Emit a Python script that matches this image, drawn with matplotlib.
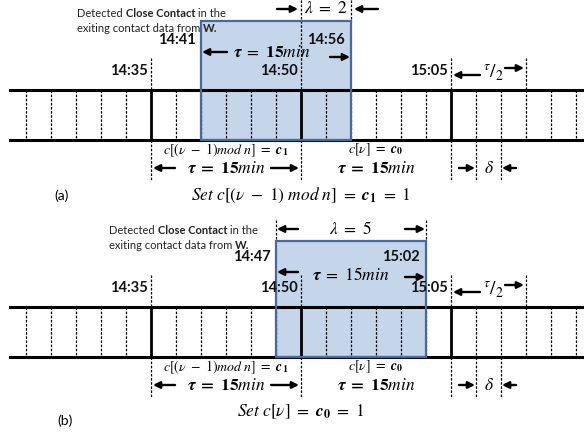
import matplotlib
matplotlib.use('Agg')
import matplotlib.pyplot as plt
from matplotlib.patches import Rectangle

plt.rcParams['mathtext.fontset'] = 'stix'

# x in minutes after 14:35, y in pixel rows of the figure
minor_ticks = [-12.5, -10, -7.5, -5, -2.5, 2.5, 5, 7.5, 10, 12.5, 17.5, 20,
               22.5, 25, 27.5, 32.5, 35, 37.5, 40, 42.5]
major_ticks = [0, 15, 30]
major_labels = ['14:35', '14:50', '15:05']
delta_ticks = [32.5, 35]
half_tau_end = 37.5

contact_start = [5, 12.5]          # where the box is drawn
contact_end = [20, 27.5]
contact_labels = [('14:41', '14:56'), ('14:47', '15:02')]
lambdas = [2, 5]
set_texts = [r'$Set\ c[(\nu\ -\ 1)\ mod\ n]\ =\ \mathbfit{c}_{\mathbf{1}}\ =\ 1$',
             r'$Set\ c[\nu]\ =\ \mathbfit{c}_{\mathbf{0}}\ =\ 1$']
panel_tags = ['(a)', '(b)']
panel_offset = [0, 217]

BOX_FILL = '#c5d5ea'
BOX_EDGE = '#47699b'
SANS = 'Lato'
TAU_BOLD = r'$\mathbfit{\tau}\ \mathbf{=\ 15}min$'

fig = plt.figure(figsize=(5.84, 4.33), dpi=100)
ax = fig.add_axes([0, 0, 1, 1])
ax.set_xlim(-15.1, 43.3)
ax.set_ylim(433, 0)
ax.axis('off')


def arrow(x0, x1, y):
    ax.annotate('', xy=(x1, y), xytext=(x0, y), zorder=7,
                arrowprops=dict(arrowstyle='-|>', lw=1.7, color='k',
                                mutation_scale=10, shrinkA=0, shrinkB=0))


def dashed(x, y0, y1):
    ax.plot([x, x], [y0, y1], color='k', lw=0.9, ls=(0, (2, 1.3)), zorder=2)


def rich_line(x, y, parts, size):
    # parts: list of (text, weight) drawn one after another on the same baseline
    fig.canvas.draw()
    r = fig.canvas.get_renderer()
    inv = ax.transData.inverted()
    cur = x
    for s, w in parts:
        t = ax.text(cur, y, s, fontsize=size, fontweight=w, family=SANS,
                    va='baseline', ha='left', color='#222222')
        bb = t.get_window_extent(renderer=r)
        cur = inv.transform((bb.x1, bb.y0))[0]


for i in range(2):
    dy = panel_offset[i]
    top, bot = 90 + dy, 140 + dy
    a, b = contact_start[i], contact_end[i]
    box_top = 21 + dy if i == 0 else 24 + dy

    # detected contact window
    ax.add_patch(Rectangle((a, box_top), b - a, bot - box_top, facecolor=BOX_FILL,
                           edgecolor='none', zorder=1))
    ax.add_patch(Rectangle((a, box_top), b - a, bot - box_top, facecolor='none',
                           edgecolor=BOX_EDGE, lw=1.6, zorder=5))

    # the time line
    ax.plot([-14.1, 43.3], [top, top], color='k', lw=2.2, zorder=3)
    ax.plot([-14.1, 43.3], [bot, bot], color='k', lw=2.2, zorder=3)
    for m in minor_ticks:
        dashed(m, top, bot)
    for m in major_ticks:
        ax.plot([m, m], [top, bot], color='k', lw=2, zorder=3)

    # dashed guides above the line
    for m in major_ticks + [half_tau_end]:
        y0 = 58 + dy
        if i == 0 and m == 15:
            y0 = 0
        dashed(m, y0, top)
    # below the line
    for m in major_ticks + delta_ticks:
        dashed(m, bot, bot + 40)

    # major time labels
    for m, lab in zip(major_ticks, major_labels):
        ax.text(m - 0.3, 71 + dy, lab, ha='right', va='center', fontsize=10.5,
                fontweight='bold', family=SANS, color='#111111', zorder=6)

    # box labels
    ax.text(a - 0.5, 40 + dy, contact_labels[i][0], ha='right', va='center',
            fontsize=10.5, fontweight='bold', family=SANS, color='#111111', zorder=6)
    ax.text(b - 0.6, 40 + dy, contact_labels[i][1], ha='right', va='center',
            fontsize=10.5, fontweight='bold', family=SANS, color='#111111', zorder=6)

    # tau inside the box
    if i == 0:
        ax.text(a + 7.1, 52 + dy, r'$\mathbfit{\tau}\ =\ \mathbf{15}min$', ha='center',
                va='center', fontsize=12.5, zorder=6)
        arrow(a + 2.6, a + 0.1, 52 + dy)
        arrow(b - 2.1, b - 0.1, 57 + dy)
        # lambda, arrows pointing inwards
        dashed(b, 0, box_top)
        arrow(12.6, 14.7, 9)
        ax.text((15 + b) / 2, 8, r'$\lambda\ =\ %d$' % lambdas[i], ha='center',
                va='center', fontsize=12.5)
        arrow(b + 2.7, b + 0.3, 9)
    else:
        ax.text((a + b) / 2, 58 + dy, r'$\mathbfit{\tau}\ =\ 15min$', ha='center',
                va='center', fontsize=12.5, zorder=6)
        arrow(a + 2.2, a + 0.1, 55 + dy)
        arrow(b - 2.1, b - 0.1, 60 + dy)
        dashed(a, 3 + dy, box_top)
        dashed(b, 3 + dy, box_top)
        arrow(a + 2.2, a + 0.1, 12 + dy)
        ax.text((a + b) / 2, 12 + dy, r'$\lambda\ =\ %d$' % lambdas[i], ha='center',
                va='center', fontsize=12.5)
        arrow(b - 2.1, b - 0.1, 12 + dy)

    # tau / 2
    arrow(32.9, 30.2, 75 + dy)
    ax.text(34.3, 73 + dy, r'$^{\tau}/_{2}$', ha='center', va='center', fontsize=14)
    arrow(35.4, 37.3, 68 + dy)

    # slot labels under the line
    ax.text(7.5, 150 + dy, r'$c[(\nu\ -\ 1)mod\ n]\ =\ \mathbfit{c}_{\mathbf{1}}$',
            ha='center', va='center', fontsize=10)
    ax.text(7.5, 168 + dy, TAU_BOLD, ha='center', va='center', fontsize=12.5)
    arrow(2.4, 0.2, 168 + dy)
    arrow(12.0, 14.8, 168 + dy)
    ax.text(22.5, 150 + dy, r'$c[\nu]\ =\ \mathbfit{c}_{\mathbf{0}}$', ha='center',
            va='center', fontsize=10)
    ax.text(22.5, 168 + dy, TAU_BOLD, ha='center', va='center', fontsize=12.5)

    # delta
    arrow(30.8, 32.4, 168 + dy)
    ax.text(33.75, 168 + dy, r'$\delta$', ha='center', va='center', fontsize=12.5)
    arrow(36.5, 35.1, 168 + dy)

    # set line and panel tag
    ax.text(15, 195 + dy, set_texts[i], ha='center', va='center', fontsize=12.5)
    ax.text(-8.9 if i == 0 else -8.6, 196 + dy + (8 if i == 1 else 0), panel_tags[i],
            ha='center', va='center', fontsize=10, family=SANS)

    # caption of the box
    lx = -7.4 if i == 0 else -4.2
    rich_line(lx, 17 + dy, [('Detected ', 'normal'), ('Close Contact', 'bold'),
                            (' in the', 'normal')], 8)
    rich_line(lx, 32 + dy, [('exiting contact data from ', 'normal'), ('W.', 'bold')], 8)

fig.savefig('out.png', dpi=100)
